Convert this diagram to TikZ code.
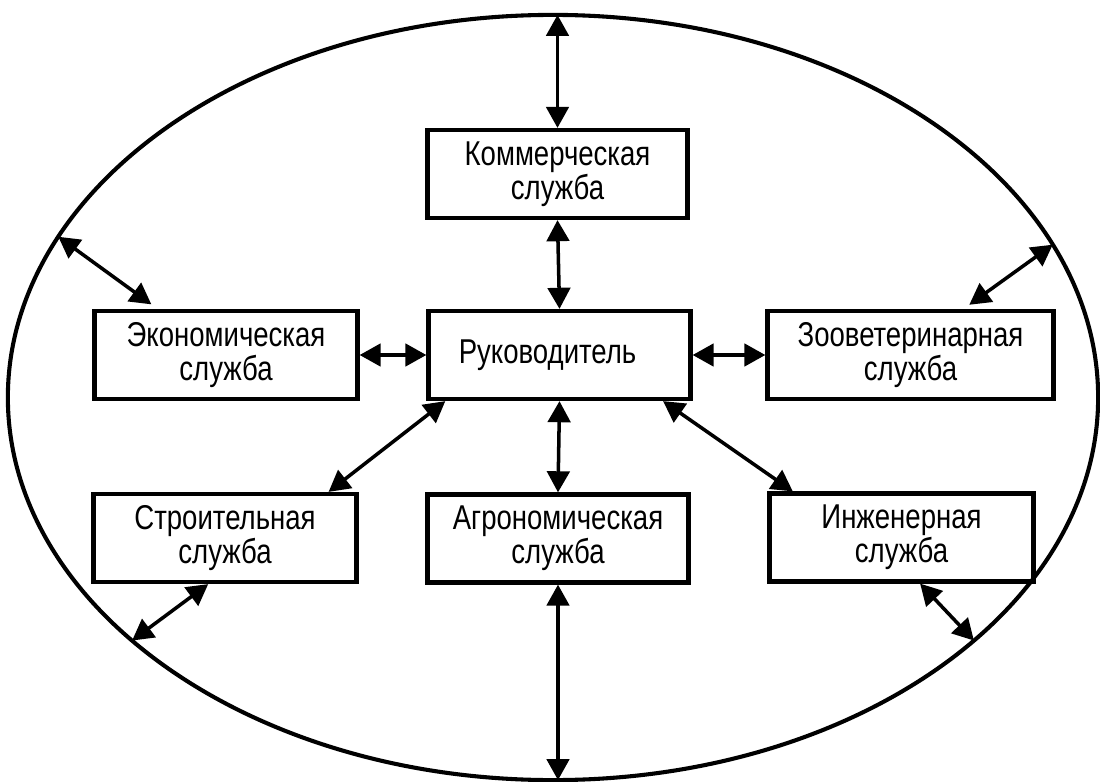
\documentclass[tikz,border=0pt]{standalone}
\usepackage{fontspec}
\setmainfont{Liberation Sans}[FakeStretch=0.8]
\usetikzlibrary{shapes.geometric,arrows.meta}

\tikzset{
  unit/.style={draw, line width=3pt, inner sep=0pt, minimum height=2.2cm,
    align=center, font=\fontsize{24.5pt}{24pt}\selectfont},
  link/.style={{Triangle[length=15pt,width=16pt]}-{Triangle[length=15pt,width=16pt]},
    line width=2.5pt},
}

\begin{document}
\begin{tikzpicture}[x=0.025cm, y=-0.025cm]
        \useasboundingbox (0,0) rectangle (1100,782);

        % Outer environment
        \node[ellipse, draw, line width=2.9pt, inner sep=0pt, outer sep=0pt,
            minimum width=27.25cm, minimum height=19.125cm] (field) at (553,397.5) {};

        % Services
        \node[unit, minimum width=6.5cm]   (comm)  at (557.5,174) {Коммерческая\\служба};
        \node[unit, minimum width=6.575cm] (econ)  at (226,355)   {Экономическая\\служба};
        \node[unit, minimum width=6.55cm]  (head)  at (559.5,355) {\hspace*{-17pt}Руководитель};
        \node[unit, minimum width=7.15cm]  (zoo)   at (910.5,355) {Зооветеринарная\\служба};
        \node[unit, minimum width=6.575cm] (build) at (225,538)   {Строительная\\служба};
        \node[unit, minimum width=6.525cm] (agro)  at (558,538.5) {Агрономическая\\служба};
        \node[unit, minimum width=6.6cm]   (eng)   at (901.5,537.5) {Инженерная\\служба};

        % Links to the head
        \draw[link] (comm.south) -- (head.north);
        \draw[link] (econ.east) -- (head.west);
        \draw[link] (head.east) -- (zoo.west);
        \draw[link] (head.south) -- (agro.north);
        \draw[link] (head.202) -- (build.24);
        \draw[link] (head.336) -- (eng.157);

        % Links to the environment
        \draw[link] (comm.north |- field.north) -- (comm.north);
        \draw[link] (agro.south) -- (agro.south |- field.south);
        \draw[link, shorten >=5.5pt] (field.162.2) -- (econ.146);
        \draw[link, shorten >=5pt] (field.17.5) -- (zoo.41);
        \draw[link] (build.250) -- (field.210.5);
        \draw[link] (eng.292) -- (field.330.8);

    \end{tikzpicture}
\end{document}
